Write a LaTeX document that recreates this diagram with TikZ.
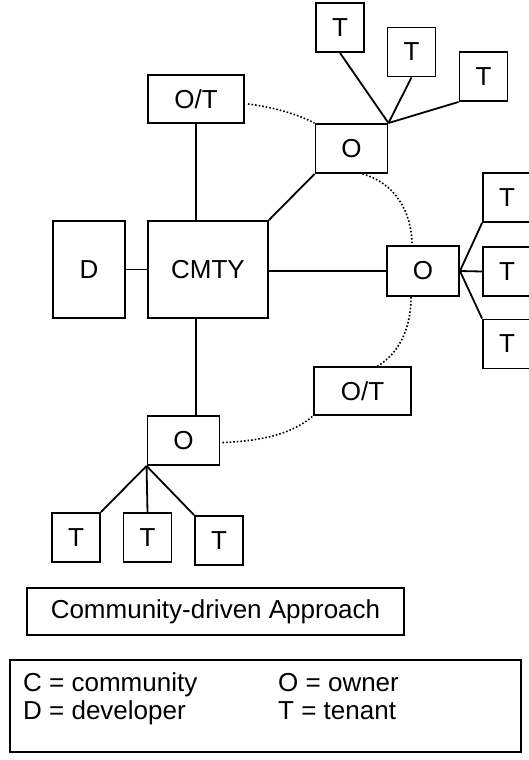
\documentclass[tikz,border=0pt]{standalone}
\usepackage{fontspec}
\setmainfont{Liberation Sans}
\usetikzlibrary{calc}
\tikzset{box/.style={draw, line width=1.9pt, inner sep=0pt, font=\fontsize{26}{30}\selectfont}}
\tikzset{tbox/.style={box, minimum width=48pt, minimum height=49pt}}
\tikzset{obox/.style={box, minimum width=72pt, minimum height=49pt}}
\tikzset{link/.style={line width=1.8pt}}
\tikzset{dots/.style={dotted, line width=1.6pt}}

\begin{document}
\begin{tikzpicture}[x=1pt, y=-1pt]
    \useasboundingbox (0,0) rectangle (529,760);
    % owners and community
    \node [box, minimum width=120pt, minimum height=97pt] (cmty) at (208,269.5) {CMTY};
    \node [box, minimum width=72pt, minimum height=97pt] (dev) at (89,269.5) {D};
    \node [box, minimum width=96pt, minimum height=48pt] (ottop) at (196,99) {O/T};
    \node [box, minimum width=97pt, minimum height=48pt] (otlow) at (362.5,391) {O/T};
    \node [obox] (otop) at (351.5,148.5) {O};
    \node [obox, minimum height=50pt] (omid) at (423,271) {O};
    \node [obox] (olow) at (183.5,440.5) {O};
    % tenants
    \node [tbox] (ta) at (340,27.5) {T};
    \node [tbox] (tb) at (411.5,52) {T};
    \node [tbox] (tc) at (483.5,76.5) {T};
    \node [tbox] (td) at (507,197.5) {T};
    \node [tbox] (te) at (507,271.5) {T};
    \node [tbox] (tf) at (507,344) {T};
    \node [tbox] (tg) at (76,537.5) {T};
    \node [tbox] (th) at (147.5,537.5) {T};
    \node [tbox] (ti) at (219,540.5) {T};
    % links
    \draw [link] (dev.east) -- (cmty.west);
    \draw [link] (ottop.south) -- (ottop.south |- cmty.north);
    \draw [link] (ottop.south |- cmty.south) -- (ottop.south |- olow.north);
    \draw [link] (cmty.north east) -- (otop.south west);
    \draw [link] (cmty.east |- omid.west) -- (omid.west);
    \draw [link] (otop.north east) -- (ta.south);
    \draw [link] (otop.north east) -- (tb.south);
    \draw [link] (otop.north east) -- (tc.south west);
    \draw [link] (omid.east) -- (td.south west);
    \draw [link] (omid.east) -- (te.west);
    \draw [link] (omid.east) -- (tf.north west);
    \draw [link] (olow.south west) -- (tg.north east);
    \draw [link] (olow.south west) -- (th.north);
    \draw [link] (olow.south west) -- (ti.north west);
    % dotted ties
    \draw [dots] ($(ottop.east)+(3,5)$) .. controls (280,108) and (303,117) .. (otop.north west);
    \draw [dots] ($(otop.south)+(11,0)$) .. controls (395,183) and (412,212) .. ($(omid.north)+(-11,0)$);
    \draw [dots] ($(omid.south)+(-12,0)$) .. controls (411,330) and (398,354) .. ($(otlow.north)+(15,0)$);
    \draw [dots] ($(olow.east)+(2,2)$) .. controls (262,441) and (292,434) .. (otlow.south west);
    % caption and legend
    \node [box, minimum width=377pt, minimum height=47pt] (title) at (215.5,611.5) {Community-driven Approach};
    \node [box, minimum width=511pt, minimum height=92pt] (legend) at (265.5,706) {};
    \node [font=\fontsize{26}{30}\selectfont, anchor=base west, inner sep=0pt] (lc) at (23,691) {C = community};
    \node [font=\fontsize{26}{30}\selectfont, anchor=base west, inner sep=0pt] (ld) at (23,719) {D = developer};
    \node [font=\fontsize{26}{30}\selectfont, anchor=base west, inner sep=0pt] (lo) at (278,691) {O = owner};
    \node [font=\fontsize{26}{30}\selectfont, anchor=base west, inner sep=0pt] (lt) at (278,719) {T = tenant};
\end{tikzpicture}
\end{document}
